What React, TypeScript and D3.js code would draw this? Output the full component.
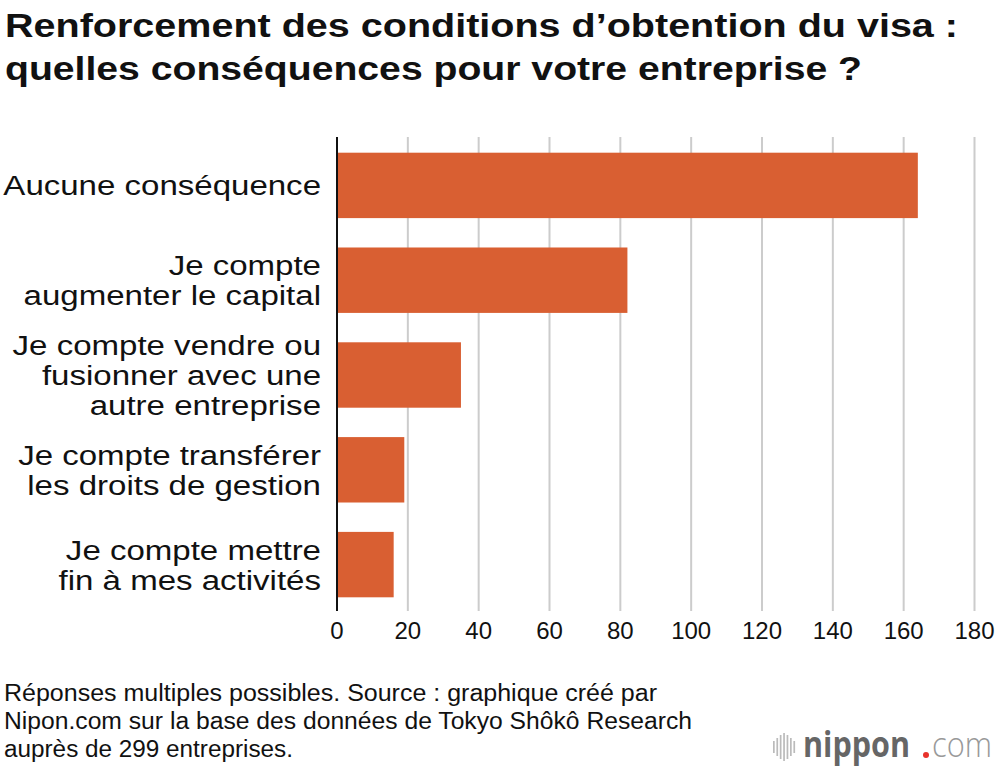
import React from "react";
import * as d3 from "d3";

const categories: string[][] = [
  ["Aucune conséquence"],
  ["Je compte", "augmenter le capital"],
  ["Je compte vendre ou", "fusionner avec une", "autre entreprise"],
  ["Je compte transférer", "les droits de gestion"],
  ["Je compte mettre", "fin à mes activités"],
];
const values: number[] = [164, 82, 35, 19, 16];
const ticks: number[] = [0, 20, 40, 60, 80, 100, 120, 140, 160, 180];
const titleLines = [
  "Renforcement des conditions d’obtention du visa :",
  "quelles conséquences pour votre entreprise ?",
];
const titleWidths = [953, 857];
const noteLines = [
  "Réponses multiples possibles. Source : graphique créé par",
  "Nipon.com sur la base des données de Tokyo Shôkô Research",
  "auprès de 299 entreprises.",
];
const noteWidths = [653, 688, 289];

export default function App() {
  const W = 1000, H = 770;
  const font = "'Liberation Sans', Arial, Helvetica, sans-serif";
  const x = d3.scaleLinear().domain([0, 180]).range([337, 974.5]);
  const y = d3
    .scaleBand<number>()
    .domain(values.map((_, i) => i))
    .range([138, 612])
    .paddingInner(0.31)
    .paddingOuter(0.155);
  const logoBars = [0, 1, 2, 3, 4, 5, 6];
  const logoH = [12, 18, 24, 28, 24, 18, 12];
  return (
    <svg width={W} height={H} style={{ position: "absolute", left: 0, top: 0, background: "#fff" }} fontFamily={font}>
      <rect width={W} height={H} fill="#fff" />
      {titleLines.map((t, i) => (
        <text key={i} x={5} y={37 + i * 43} fontSize={33} fontWeight="bold" fill="#111"
          textLength={titleWidths[i]} lengthAdjust="spacingAndGlyphs">
          {t}
        </text>
      ))}
      {ticks.slice(1).map((t) => (
        <line key={t} x1={x(t)} x2={x(t)} y1={137} y2={611} stroke="#cccccc" strokeWidth={2} />
      ))}
      {values.map((v, i) => (
        <rect key={i} x={x(0)} y={y(i)} width={x(v) - x(0)} height={y.bandwidth()} fill="#D95F32" />
      ))}
      <line x1={x(0)} x2={x(0)} y1={137} y2={611} stroke="#111" strokeWidth={2} />
      {ticks.map((t) => (
        <text key={t} x={x(t)} y={639} fontSize={24} textAnchor="middle" fill="#111">
          {t}
        </text>
      ))}
      {categories.map((lines, i) => {
        const cy = (y(i) as number) + y.bandwidth() / 2;
        const lh = 30;
        const start = cy - ((lines.length - 1) * lh) / 2;
        return lines.map((l, j) => (
          <text key={i + "-" + j} transform={`translate(321, ${start + j * lh}) scale(1.18, 1)`}
            dy="0.36em" fontSize={28} textAnchor="end" fill="#111">
            {l}
          </text>
        ));
      })}
      {noteLines.map((t, i) => (
        <text key={i} x={4} y={701 + i * 28} fontSize={23} fill="#111"
          textLength={noteWidths[i]} lengthAdjust="spacingAndGlyphs">
          {t}
        </text>
      ))}
      <g>
        {logoBars.map((b) => (
          <rect key={b} x={773 + b * 3.4} y={747 - logoH[b] / 2} width={1.7} height={logoH[b]} fill="#bbb" />
        ))}
        <text x={803} y={757} fontSize={36} fill="#666" fontFamily="'Open Sans', sans-serif" fontWeight="bold"
          textLength={107} lengthAdjust="spacingAndGlyphs">
          nippon
        </text>
        <circle cx={926} cy={755} r={3} fill="#e8322b" />
        <text x={932} y={757} fontSize={34} fill="#999" fontFamily="'Open Sans', sans-serif" fontWeight={300}
          textLength={60} lengthAdjust="spacingAndGlyphs">
          com
        </text>
      </g>
    </svg>
  );
}
